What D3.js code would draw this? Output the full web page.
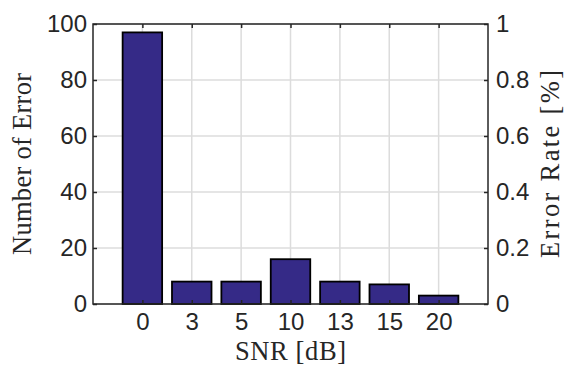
<!DOCTYPE html>
<html>
<head>
<meta charset="utf-8">
<script src="https://cdn.jsdelivr.net/npm/d3@7"></script>
<style>
  html, body { margin: 0; padding: 0; background: #fff; }
  svg { display: block; }
</style>
</head>
<body>
<svg id="chart" width="567" height="367"></svg>
<script>
// SNR levels and error counts per level
const snrLabels = ["0", "3", "5", "10", "13", "15", "20"];
const errorCounts = [97, 8, 8, 16, 8, 7, 3];
const leftTicks = [0, 20, 40, 60, 80, 100];
const rightTicks = [0, 0.2, 0.4, 0.6, 0.8, 1];

const W = 567, H = 367;
const margin = { left: 93, right: 79, top: 24, bottom: 63 };
const x0 = margin.left, x1 = W - margin.right;
const y0 = H - margin.bottom, y1 = margin.top;

const svg = d3.select("#chart");

// category positions: one slot of padding on each side
const step = (x1 - x0) / (snrLabels.length + 1);
const x = d3.scalePoint().domain(snrLabels).range([x0 + step, x1 - step]);
const yL = d3.scaleLinear().domain([0, 100]).range([y0, y1]);
const yR = d3.scaleLinear().domain([0, 1]).range([y0, y1]);

const gridColor = "#dcdcdc";
const axisColor = "#262626";
const tickFont = "'Liberation Sans', Arial, Helvetica, sans-serif";
const labelFont = "'Liberation Serif', 'Times New Roman', serif";

// grid
const grid = svg.append("g");
grid.selectAll("line.gx").data(snrLabels).join("line")
  .attr("x1", d => x(d)).attr("x2", d => x(d))
  .attr("y1", y0).attr("y2", y1)
  .attr("stroke", gridColor).attr("stroke-width", 1.5);
grid.selectAll("line.gy").data(leftTicks).join("line")
  .attr("x1", x0).attr("x2", x1)
  .attr("y1", d => yL(d)).attr("y2", d => yL(d))
  .attr("stroke", gridColor).attr("stroke-width", 1.5);

// bars
const bw = step * 0.8;
svg.append("g").selectAll("rect").data(errorCounts).join("rect")
  .attr("x", (d, i) => x(snrLabels[i]) - bw / 2)
  .attr("width", bw)
  .attr("y", d => yL(d))
  .attr("height", d => y0 - yL(d))
  .attr("fill", "#352a87")
  .attr("stroke", "#000")
  .attr("stroke-width", 1.8);

// axes (ticks point inward)
const tl = 4;
const ax = svg.append("g");
const styleAxis = g => {
  g.select(".domain").remove();
  g.selectAll(".tick line").attr("stroke", axisColor).attr("stroke-width", 1.5);
  g.selectAll(".tick text").attr("fill", axisColor)
    .style("font-family", tickFont).style("font-size", "24px");
};
ax.append("g").attr("transform", `translate(0,${y0})`)
  .call(d3.axisBottom(x).tickSize(-tl).tickPadding(9))
  .call(styleAxis);
ax.append("g").attr("transform", `translate(0,${y1})`)
  .call(d3.axisTop(x).tickSize(-tl).tickFormat(""))
  .call(styleAxis);
ax.append("g").attr("transform", `translate(${x0},0)`)
  .call(d3.axisLeft(yL).tickValues(leftTicks).tickSize(-tl).tickPadding(6))
  .call(styleAxis);
ax.append("g").attr("transform", `translate(${x1},0)`)
  .call(d3.axisRight(yR).tickValues(rightTicks).tickSize(-tl).tickPadding(8)
    .tickFormat(d => d3.format("")(+d.toFixed(1))))
  .call(styleAxis);

// box
svg.append("rect")
  .attr("x", x0).attr("y", y1)
  .attr("width", x1 - x0).attr("height", y0 - y1)
  .attr("fill", "none").attr("stroke", axisColor).attr("stroke-width", 1.5);

// axis titles
const title = (sel, len) => sel
  .attr("text-anchor", "middle")
  .attr("textLength", len).attr("lengthAdjust", "spacing")
  .style("font-family", labelFont).style("font-size", "26.5px")
  .attr("fill", axisColor);

svg.append("text")
  .attr("x", 290.5).attr("y", 360)
  .call(title, 111)
  .text("SNR [dB]");
svg.append("text")
  .attr("transform", `translate(31,164) rotate(-90)`)
  .call(title, 182)
  .text("Number of Error");
svg.append("text")
  .attr("transform", `translate(559,164) rotate(-90)`)
  .call(title, 188)
  .text("Error Rate [%]");
</script>
</body>
</html>
